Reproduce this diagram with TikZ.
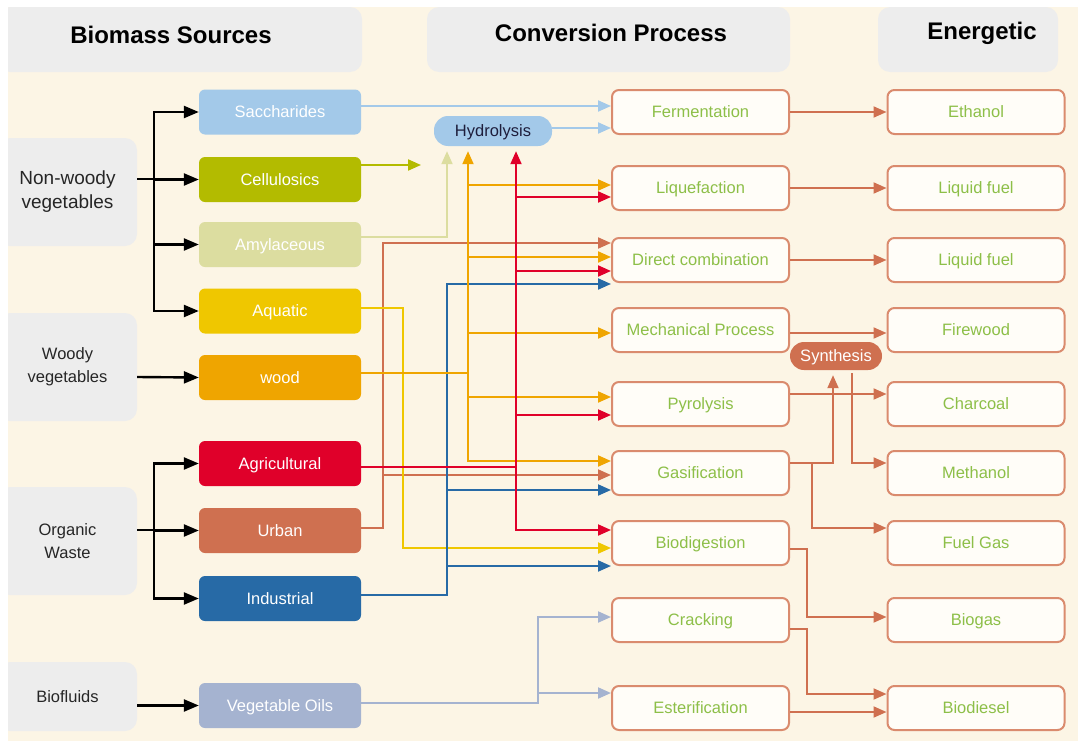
\documentclass[tikz,border=0pt]{standalone}
\usepackage{fontspec}
\setmainfont{Liberation Sans}
\usetikzlibrary{arrows.meta}

\definecolor{cream}{HTML}{FCF5E5}
\definecolor{panel}{HTML}{EDEDED}
\definecolor{sacchc}{HTML}{A3C9E9}
\definecolor{celluc}{HTML}{B3BB00}
\definecolor{amylc}{HTML}{DCDDA0}
\definecolor{aquatc}{HTML}{EFC700}
\definecolor{woodc}{HTML}{EFA500}
\definecolor{agricc}{HTML}{E0002A}
\definecolor{urbanc}{HTML}{CF7050}
\definecolor{indusc}{HTML}{276AA6}
\definecolor{vegoilc}{HTML}{A5B3D0}
\definecolor{procedge}{HTML}{DA8B6E}
\definecolor{procfill}{HTML}{FFFDF8}
\definecolor{proctext}{HTML}{8DBF48}
\definecolor{hydtext}{HTML}{1E1E3C}

\tikzstyle{headbox} = [rectangle,rounded corners=12pt,fill=panel,minimum height=65pt]
\tikzstyle{headtext} = [font=\bfseries\fontsize{24}{28}\selectfont,text=black]
\tikzstyle{catbox} = [rectangle,rounded corners=12pt,fill=panel,minimum width=139pt,align=center,text=black!85,font=\fontsize{16.5}{23}\selectfont]
\tikzstyle{srcbox} = [rectangle,rounded corners=6pt,minimum width=162pt,minimum height=45pt,inner sep=0pt,text=white,font=\fontsize{16.5}{20}\selectfont,text height=11.8pt,text depth=0pt]
\tikzstyle{procbox} = [rectangle,rounded corners=7pt,draw=procedge,line width=2pt,fill=procfill,minimum width=177pt,minimum height=44pt,inner sep=0pt,text=proctext,font=\fontsize{16.5}{20}\selectfont,text height=11.8pt,text depth=0pt]
\tikzstyle{pill} = [rectangle,rounded corners=14pt,inner sep=0pt,font=\fontsize{16.5}{20}\selectfont,text height=11.8pt,text depth=0pt]
\tikzstyle{link} = [line width=2pt,->,>={Triangle[length=13pt,width=11pt]}]
\tikzstyle{feed} = [line width=2.4pt,->,>={Triangle[length=15pt,width=12pt]},black]

\begin{document}
\begin{tikzpicture}[x=1pt,y=-1pt]
		\useasboundingbox (0,0) rectangle (1078,744);
		\fill[white] (0,0) rectangle (1078,744);
		\fill[cream] (8,7) rectangle (1078,741);

		% column heads and groups
		\begin{scope}
		\clip (8,7) rectangle (1078,741);
		\node[headbox,minimum width=364pt] (hsrc) at (180,39.5) {};
		\node[headbox,minimum width=363pt] (hconv) at (608.5,39.5) {};
		\node[headbox,minimum width=180pt] (henergy) at (968,39.5) {};
		\node[catbox,minimum height=108pt,font=\fontsize{19}{24}\selectfont] (nonwoody) at (67.5,192) {Non-woody\\vegetables};
		\node[catbox,minimum height=108pt] (woody) at (67.5,367) {Woody\\vegetables};
		\node[catbox,minimum height=108pt] (organic) at (67.5,541) {Organic\\Waste};
		\node[catbox,minimum height=69pt] (biofluids) at (67.5,696.5) {Biofluids};
		\end{scope}
		\node[headtext] (tsrc) at (171,35) {Biomass Sources};
		\node[headtext] (tconv) at (611,33) {Conversion Process};
		\node[headtext] (tenergy) at (982,33) {Energetic};

		% sources
		\node[srcbox,fill=sacchc] (sacch) at (280,112) {Saccharides};
		\node[srcbox,fill=celluc] (cellu) at (280,179.5) {Cellulosics};
		\node[srcbox,fill=amylc] (amyl) at (280,244.5) {Amylaceous};
		\node[srcbox,fill=aquatc] (aquat) at (280,311) {Aquatic};
		\node[srcbox,fill=woodc] (wood) at (280,377.5) {wood};
		\node[srcbox,fill=agricc] (agric) at (280,463.5) {Agricultural};
		\node[srcbox,fill=urbanc] (urban) at (280,530.5) {Urban};
		\node[srcbox,fill=indusc] (indus) at (280,598.5) {Industrial};
		\node[srcbox,fill=vegoilc] (vegoil) at (280,705.5) {Vegetable Oils};

		% processes
		\node[procbox] (ferm) at (700.5,112) {Fermentation};
		\node[procbox] (liq) at (700.5,188) {Liquefaction};
		\node[procbox] (dir) at (700.5,260) {Direct combination};
		\node[procbox] (mech) at (700.5,330) {Mechanical Process};
		\node[procbox] (pyr) at (700.5,404) {Pyrolysis};
		\node[procbox] (gas) at (700.5,473) {Gasification};
		\node[procbox] (biodig) at (700.5,543) {Biodigestion};
		\node[procbox] (crack) at (700.5,620) {Cracking};
		\node[procbox] (ester) at (700.5,708) {Esterification};

		% products
		\node[procbox] (ethanol) at (976,112) {Ethanol};
		\node[procbox] (liqfuel) at (976,188) {Liquid fuel};
		\node[procbox] (liqfuelb) at (976,260) {Liquid fuel};
		\node[procbox] (firewood) at (976,330) {Firewood};
		\node[procbox] (charcoal) at (976,404) {Charcoal};
		\node[procbox] (methanol) at (976,473) {Methanol};
		\node[procbox] (fuelgas) at (976,543) {Fuel Gas};
		\node[procbox] (biogas) at (976,620) {Biogas};
		\node[procbox] (biodiesel) at (976,708) {Biodiesel};

		\node[pill,fill=sacchc,text=hydtext,minimum width=118pt,minimum height=30pt] (hydro) at (493,131) {Hydrolysis};
		\node[pill,fill=urbanc,text=white,minimum width=92pt,minimum height=28pt] (synth) at (836,356) {Synthesis};

		% groups to sources
		\coordinate (nwj) at (154,179);
		\coordinate (owj) at (154,530);
		\draw[feed,-] ([yshift=13pt]nonwoody.east) -- (nwj);
		\foreach \n in {sacch,cellu,amyl,aquat} \draw[feed] (nwj) |- (\n.west);
		\draw[feed] ([yshift=-10pt]woody.east) -- (wood.west);
		\draw[feed,-] ([yshift=11pt]organic.east) -- (owj);
		\foreach \n in {agric,urban,indus} \draw[feed] (owj) |- (\n.west);
		\draw[feed] ([yshift=-9pt]biofluids.east) -- (vegoil.west);

		% sources to processes
		\coordinate (cellend) at (421,165);
		\coordinate (uj) at (383,528);
		\coordinate (qj) at (403,308);
		\coordinate (ij) at (447,595);
		\coordinate (wj) at (468,373);
		\coordinate (aj) at (516,467);
		\coordinate (vj) at (538,703);
		\draw[link,sacchc] ([yshift=6pt]sacch.east) -- ([yshift=6pt]ferm.west);
		\draw[link,sacchc] ([yshift=3pt]hydro.east) -- ([yshift=-16pt]ferm.west);
		\draw[link,celluc] ([yshift=14.5pt]cellu.east) -- (cellend);
		\draw[link,amylc,shorten >=5pt] ([yshift=7.5pt]amyl.east) -| ([xshift=-46pt]hydro.south);
		\foreach \t/\s in {dir/17,gas/-2} \draw[link,urbanc] ([yshift=2.5pt]urban.east) -- (uj) |- ([yshift=\s pt]\t.west);
		\draw[link,aquatc] ([yshift=3pt]aquat.east) -- (qj) |- ([yshift=-5pt]biodig.west);
		\foreach \t/\s in {dir/-24,gas/-17,biodig/-23} \draw[link,indusc] ([yshift=3.5pt]indus.east) -- (ij) |- ([yshift=\s pt]\t.west);
		\draw[link,woodc,shorten >=5pt] ([yshift=4.5pt]wood.east) -| ([xshift=-25pt]hydro.south);
		\foreach \t/\s in {liq/3,dir/3,mech/-3,pyr/7,gas/12} \draw[link,woodc] ([yshift=4.5pt]wood.east) -- (wj) |- ([yshift=\s pt]\t.west);
		\draw[link,agricc,shorten >=5pt] ([yshift=-3.5pt]agric.east) -| ([xshift=23pt]hydro.south);
		\foreach \t/\s in {liq/-9,dir/-11,pyr/-11,biodig/13} \draw[link,agricc] ([yshift=-3.5pt]agric.east) -- (aj) |- ([yshift=\s pt]\t.west);
		\foreach \t/\s in {crack/3,ester/15} \draw[link,vegoilc] ([yshift=2.5pt]vegoil.east) -- (vj) |- ([yshift=\s pt]\t.west);

		% processes to products
		\coordinate (gj) at (812,463);
		\coordinate (bj) at (807,549);
		\coordinate (cj) at (807,629);
		\draw[link,urbanc] (ferm) -- (ethanol);
		\draw[link,urbanc] (liq) -- (liqfuel);
		\draw[link,urbanc] (dir) -- (liqfuelb);
		\draw[link,urbanc] ([yshift=-3pt]mech.east) -- ([yshift=-3pt]firewood.west);
		\draw[link,urbanc] ([yshift=10pt]pyr.east) -- ([yshift=10pt]charcoal.west);
		\draw[link,urbanc,shorten >=5pt] ([yshift=10pt]gas.east) -| ([xshift=-3pt]synth.south);
		\draw[link,urbanc] ([yshift=10pt]gas.east) -- (gj) |- ([yshift=15pt]fuelgas.west);
		\draw[link,urbanc,shorten <=3pt] ([xshift=16pt]synth.south) |- ([yshift=10pt]methanol.west);
		\draw[link,urbanc] ([yshift=-6pt]biodig.east) -- (bj) |- ([yshift=3pt]biogas.west);
		\draw[link,urbanc] ([yshift=-9pt]crack.east) -- (cj) |- ([yshift=14pt]biodiesel.west);
		\draw[link,urbanc] ([yshift=-4pt]ester.east) -- ([yshift=-4pt]biodiesel.west);
\end{tikzpicture}
\end{document}
